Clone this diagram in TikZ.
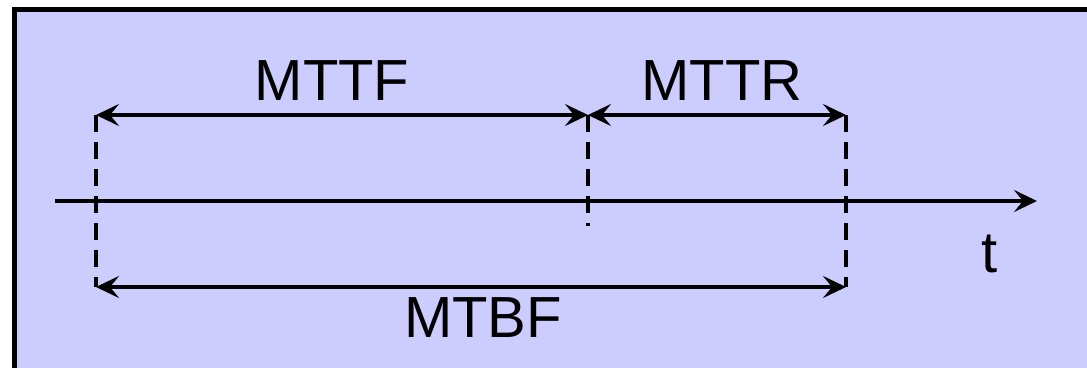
\documentclass[tikz,border=0pt]{standalone}
\usepackage{fontspec}
\setmainfont{Liberation Sans}
\usetikzlibrary{arrows.meta}
\usetikzlibrary{positioning}
\definecolor{panelblue}{RGB}{204,204,255}

\tikzset{
  >={Stealth[length=11.5pt,width=11pt,inset=4.5pt]},
  span/.style={<->, line width=1.7pt},
  marker/.style={dash pattern=on 8.5pt off 5pt, line width=2.3pt},
  label/.style={font=\fontsize{29}{34}\selectfont, anchor=base, inner sep=0pt}
}

\begin{document}
\begin{tikzpicture}[x=0.5pt,y=-0.5pt]
            % frame and background
            \useasboundingbox (0,0) rectangle (1087,368);
            \fill[white] (0,0) rectangle (1087,368);
            \draw[fill=panelblue, line width=2.5pt] (14,10) rectangle (1110,390);

            % time axis
            \coordinate (axisstart) at (55,201);
            \coordinate (axisend) at (1037,201);
            \draw[->, line width=1.7pt] (axisstart) -- (axisend);
            \node[label] (t) at (990,273) {t};

            % failure / repair instants
            \coordinate (failA) at (96,115);
            \coordinate (failAlow) at (96,287);
            \coordinate (repair) at (588,115);
            \coordinate (repairlow) at (588,226);
            \coordinate (failB) at (846,115);
            \coordinate (failBlow) at (846,287);

            \draw[marker] (failA) -- (failAlow);
            \draw[marker] (repair) -- (repairlow);
            \draw[marker] (failB) -- (failBlow);

            % intervals
            \draw[span] (failA) -- (repair);
            \draw[span] (repair) -- (failB);
            \draw[span] (failAlow) -- (failBlow);

            \node[label] (mttf) at (332,101) {MTTF};
            \node[label] (mttr) at (722,101) {MTTR};
            \node[label] (mtbf) at (483,338) {MTBF};
        \end{tikzpicture}
\end{document}
